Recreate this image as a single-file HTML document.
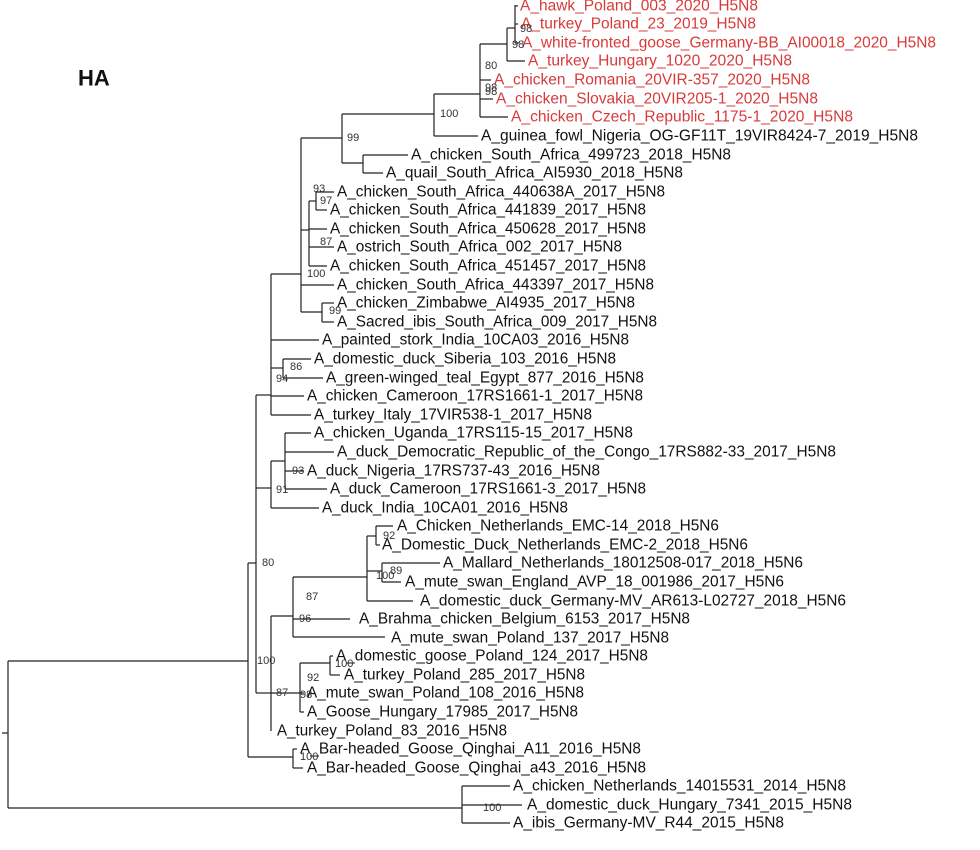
<!DOCTYPE html>
<html><head><meta charset="utf-8"><style>
html,body{margin:0;padding:0;background:#fff;}
svg{display:block;}
.t{font-family:"Liberation Sans",Arial,sans-serif;font-size:15.5px;fill:#111;dominant-baseline:central;}
.r{fill:#d83a3a;}
.b{font-family:"Liberation Sans",Arial,sans-serif;font-size:11px;fill:#333;dominant-baseline:central;}
line{stroke:#222;stroke-width:1.2;}
</style></head><body>
<svg width="980" height="850" viewBox="0 0 980 850" xmlns="http://www.w3.org/2000/svg">
<text x="78" y="78" font-family="Liberation Sans,Arial,sans-serif" font-size="22" font-weight="bold" fill="#111" dominant-baseline="central">HA</text>
<g>
<line x1="2" y1="733" x2="8" y2="733"/>
<line x1="8" y1="661" x2="8" y2="808"/>
<line x1="8" y1="661" x2="248" y2="661"/>
<line x1="8" y1="808" x2="462" y2="808"/>
<line x1="462" y1="786" x2="462" y2="823"/>
<line x1="462" y1="786" x2="510" y2="786"/>
<line x1="462" y1="805" x2="522" y2="805"/>
<line x1="462" y1="823" x2="510" y2="823"/>
<line x1="248" y1="563" x2="248" y2="757"/>
<line x1="248" y1="563" x2="256" y2="563"/>
<line x1="248" y1="757" x2="293" y2="757"/>
<line x1="293" y1="749" x2="293" y2="768"/>
<line x1="293" y1="749" x2="297" y2="749"/>
<line x1="293" y1="768" x2="303" y2="768"/>
<line x1="256" y1="395" x2="256" y2="693"/>
<line x1="256" y1="395" x2="271" y2="395"/>
<line x1="256" y1="488" x2="271" y2="488"/>
<line x1="256" y1="693" x2="271" y2="693"/>
<line x1="271" y1="616" x2="271" y2="731"/>
<line x1="271" y1="616" x2="293" y2="616"/>
<line x1="271" y1="693" x2="300" y2="693"/>
<line x1="293" y1="577" x2="293" y2="637"/>
<line x1="293" y1="577" x2="367" y2="577"/>
<line x1="293" y1="619" x2="350" y2="619"/>
<line x1="293" y1="637" x2="385" y2="637"/>
<line x1="367" y1="536" x2="367" y2="601"/>
<line x1="367" y1="536" x2="376" y2="536"/>
<line x1="367" y1="571" x2="382" y2="571"/>
<line x1="367" y1="601" x2="413" y2="601"/>
<line x1="376" y1="526" x2="376" y2="545"/>
<line x1="376" y1="526" x2="393" y2="526"/>
<line x1="376" y1="545" x2="380" y2="545"/>
<line x1="382" y1="563" x2="382" y2="582"/>
<line x1="382" y1="563" x2="440" y2="563"/>
<line x1="382" y1="582" x2="401" y2="582"/>
<line x1="300" y1="663" x2="300" y2="712"/>
<line x1="300" y1="663" x2="330" y2="663"/>
<line x1="330" y1="656" x2="330" y2="675"/>
<line x1="330" y1="656" x2="333" y2="656"/>
<line x1="330" y1="675" x2="340" y2="675"/>
<line x1="300" y1="693" x2="304" y2="693"/>
<line x1="300" y1="712" x2="304" y2="712"/>
<line x1="271" y1="274" x2="271" y2="415"/>
<line x1="271" y1="274" x2="301" y2="274"/>
<line x1="271" y1="340" x2="319" y2="340"/>
<line x1="271" y1="368" x2="283" y2="368"/>
<line x1="283" y1="359" x2="283" y2="378"/>
<line x1="283" y1="359" x2="311" y2="359"/>
<line x1="283" y1="378" x2="323" y2="378"/>
<line x1="271" y1="396" x2="304" y2="396"/>
<line x1="271" y1="415" x2="311" y2="415"/>
<line x1="271" y1="461" x2="271" y2="508"/>
<line x1="271" y1="461" x2="285" y2="461"/>
<line x1="271" y1="508" x2="319" y2="508"/>
<line x1="285" y1="433" x2="285" y2="489"/>
<line x1="285" y1="433" x2="311" y2="433"/>
<line x1="285" y1="452" x2="334" y2="452"/>
<line x1="285" y1="471" x2="304" y2="471"/>
<line x1="285" y1="489" x2="327" y2="489"/>
<line x1="301" y1="138" x2="301" y2="312"/>
<line x1="301" y1="138" x2="342" y2="138"/>
<line x1="301" y1="230" x2="309" y2="230"/>
<line x1="301" y1="285" x2="334" y2="285"/>
<line x1="301" y1="312" x2="322" y2="312"/>
<line x1="322" y1="303" x2="322" y2="322"/>
<line x1="322" y1="303" x2="334" y2="303"/>
<line x1="322" y1="322" x2="334" y2="322"/>
<line x1="309" y1="201" x2="309" y2="266"/>
<line x1="309" y1="201" x2="316" y2="201"/>
<line x1="316" y1="192" x2="316" y2="210"/>
<line x1="316" y1="192" x2="334" y2="192"/>
<line x1="316" y1="210" x2="327" y2="210"/>
<line x1="309" y1="229" x2="327" y2="229"/>
<line x1="309" y1="247" x2="334" y2="247"/>
<line x1="309" y1="266" x2="327" y2="266"/>
<line x1="342" y1="114" x2="342" y2="163"/>
<line x1="342" y1="114" x2="434" y2="114"/>
<line x1="342" y1="163" x2="363" y2="163"/>
<line x1="363" y1="155" x2="363" y2="173"/>
<line x1="363" y1="155" x2="408" y2="155"/>
<line x1="363" y1="173" x2="383" y2="173"/>
<line x1="434" y1="94" x2="434" y2="136"/>
<line x1="434" y1="94" x2="480" y2="94"/>
<line x1="434" y1="136" x2="478" y2="136"/>
<line x1="480" y1="44" x2="480" y2="117"/>
<line x1="480" y1="44" x2="507" y2="44"/>
<line x1="480" y1="80" x2="491" y2="80"/>
<line x1="480" y1="99" x2="493" y2="99"/>
<line x1="480" y1="117" x2="508" y2="117"/>
<line x1="507" y1="28" x2="507" y2="61"/>
<line x1="507" y1="28" x2="515" y2="28"/>
<line x1="507" y1="61" x2="525" y2="61"/>
<line x1="515" y1="5" x2="515" y2="43"/>
<line x1="515" y1="6" x2="518" y2="6"/>
<line x1="515" y1="24" x2="518" y2="24"/>
<line x1="515" y1="43" x2="519" y2="43"/>
</g>
<g lengthAdjust="spacingAndGlyphs">
<text class="t r" x="520" y="6" textLength="238" lengthAdjust="spacingAndGlyphs">A_hawk_Poland_003_2020_H5N8</text>
<text class="t r" x="521" y="24" textLength="235" lengthAdjust="spacingAndGlyphs">A_turkey_Poland_23_2019_H5N8</text>
<text class="t r" x="522" y="43" textLength="414" lengthAdjust="spacingAndGlyphs">A_white-fronted_goose_Germany-BB_AI00018_2020_H5N8</text>
<text class="t r" x="528" y="61" textLength="264" lengthAdjust="spacingAndGlyphs">A_turkey_Hungary_1020_2020_H5N8</text>
<text class="t r" x="494" y="80" textLength="316" lengthAdjust="spacingAndGlyphs">A_chicken_Romania_20VIR-357_2020_H5N8</text>
<text class="t r" x="496" y="99" textLength="322" lengthAdjust="spacingAndGlyphs">A_chicken_Slovakia_20VIR205-1_2020_H5N8</text>
<text class="t r" x="511" y="117" textLength="342" lengthAdjust="spacingAndGlyphs">A_chicken_Czech_Republic_1175-1_2020_H5N8</text>
<text class="t" x="481" y="136" textLength="437" lengthAdjust="spacingAndGlyphs">A_guinea_fowl_Nigeria_OG-GF11T_19VIR8424-7_2019_H5N8</text>
<text class="t" x="411" y="155" textLength="320" lengthAdjust="spacingAndGlyphs">A_chicken_South_Africa_499723_2018_H5N8</text>
<text class="t" x="386" y="173" textLength="297" lengthAdjust="spacingAndGlyphs">A_quail_South_Africa_AI5930_2018_H5N8</text>
<text class="t" x="337" y="192" textLength="328" lengthAdjust="spacingAndGlyphs">A_chicken_South_Africa_440638A_2017_H5N8</text>
<text class="t" x="330" y="210" textLength="316" lengthAdjust="spacingAndGlyphs">A_chicken_South_Africa_441839_2017_H5N8</text>
<text class="t" x="330" y="229" textLength="316" lengthAdjust="spacingAndGlyphs">A_chicken_South_Africa_450628_2017_H5N8</text>
<text class="t" x="337" y="247" textLength="285" lengthAdjust="spacingAndGlyphs">A_ostrich_South_Africa_002_2017_H5N8</text>
<text class="t" x="330" y="266" textLength="316" lengthAdjust="spacingAndGlyphs">A_chicken_South_Africa_451457_2017_H5N8</text>
<text class="t" x="337" y="285" textLength="317" lengthAdjust="spacingAndGlyphs">A_chicken_South_Africa_443397_2017_H5N8</text>
<text class="t" x="337" y="303" textLength="298" lengthAdjust="spacingAndGlyphs">A_chicken_Zimbabwe_AI4935_2017_H5N8</text>
<text class="t" x="337" y="322" textLength="320" lengthAdjust="spacingAndGlyphs">A_Sacred_ibis_South_Africa_009_2017_H5N8</text>
<text class="t" x="322" y="340" textLength="307" lengthAdjust="spacingAndGlyphs">A_painted_stork_India_10CA03_2016_H5N8</text>
<text class="t" x="314" y="359" textLength="302" lengthAdjust="spacingAndGlyphs">A_domestic_duck_Siberia_103_2016_H5N8</text>
<text class="t" x="326" y="378" textLength="318" lengthAdjust="spacingAndGlyphs">A_green-winged_teal_Egypt_877_2016_H5N8</text>
<text class="t" x="307" y="396" textLength="336" lengthAdjust="spacingAndGlyphs">A_chicken_Cameroon_17RS1661-1_2017_H5N8</text>
<text class="t" x="314" y="415" textLength="278" lengthAdjust="spacingAndGlyphs">A_turkey_Italy_17VIR538-1_2017_H5N8</text>
<text class="t" x="314" y="433" textLength="319" lengthAdjust="spacingAndGlyphs">A_chicken_Uganda_17RS115-15_2017_H5N8</text>
<text class="t" x="337" y="452" textLength="499" lengthAdjust="spacingAndGlyphs">A_duck_Democratic_Republic_of_the_Congo_17RS882-33_2017_H5N8</text>
<text class="t" x="307" y="471" textLength="293" lengthAdjust="spacingAndGlyphs">A_duck_Nigeria_17RS737-43_2016_H5N8</text>
<text class="t" x="330" y="489" textLength="316" lengthAdjust="spacingAndGlyphs">A_duck_Cameroon_17RS1661-3_2017_H5N8</text>
<text class="t" x="322" y="508" textLength="246" lengthAdjust="spacingAndGlyphs">A_duck_India_10CA01_2016_H5N8</text>
<text class="t" x="397" y="526" textLength="322" lengthAdjust="spacingAndGlyphs">A_Chicken_Netherlands_EMC-14_2018_H5N6</text>
<text class="t" x="382" y="545" textLength="366" lengthAdjust="spacingAndGlyphs">A_Domestic_Duck_Netherlands_EMC-2_2018_H5N6</text>
<text class="t" x="443" y="563" textLength="360" lengthAdjust="spacingAndGlyphs">A_Mallard_Netherlands_18012508-017_2018_H5N6</text>
<text class="t" x="405" y="582" textLength="379" lengthAdjust="spacingAndGlyphs">A_mute_swan_England_AVP_18_001986_2017_H5N6</text>
<text class="t" x="420" y="601" textLength="426" lengthAdjust="spacingAndGlyphs">A_domestic_duck_Germany-MV_AR613-L02727_2018_H5N6</text>
<text class="t" x="359" y="619" textLength="331" lengthAdjust="spacingAndGlyphs">A_Brahma_chicken_Belgium_6153_2017_H5N8</text>
<text class="t" x="391" y="638" textLength="278" lengthAdjust="spacingAndGlyphs">A_mute_swan_Poland_137_2017_H5N8</text>
<text class="t" x="336" y="656" textLength="312" lengthAdjust="spacingAndGlyphs">A_domestic_goose_Poland_124_2017_H5N8</text>
<text class="t" x="344" y="675" textLength="241" lengthAdjust="spacingAndGlyphs">A_turkey_Poland_285_2017_H5N8</text>
<text class="t" x="307" y="693" textLength="277" lengthAdjust="spacingAndGlyphs">A_mute_swan_Poland_108_2016_H5N8</text>
<text class="t" x="307" y="712" textLength="271" lengthAdjust="spacingAndGlyphs">A_Goose_Hungary_17985_2017_H5N8</text>
<text class="t" x="277" y="731" textLength="230" lengthAdjust="spacingAndGlyphs">A_turkey_Poland_83_2016_H5N8</text>
<text class="t" x="300" y="749" textLength="341" lengthAdjust="spacingAndGlyphs">A_Bar-headed_Goose_Qinghai_A11_2016_H5N8</text>
<text class="t" x="307" y="768" textLength="339" lengthAdjust="spacingAndGlyphs">A_Bar-headed_Goose_Qinghai_a43_2016_H5N8</text>
<text class="t" x="513" y="786" textLength="333" lengthAdjust="spacingAndGlyphs">A_chicken_Netherlands_14015531_2014_H5N8</text>
<text class="t" x="527" y="805" textLength="325" lengthAdjust="spacingAndGlyphs">A_domestic_duck_Hungary_7341_2015_H5N8</text>
<text class="t" x="513" y="823" textLength="271" lengthAdjust="spacingAndGlyphs">A_ibis_Germany-MV_R44_2015_H5N8</text>
</g>
<g>
<text class="b" x="520" y="29">98</text>
<text class="b" x="512" y="45">98</text>
<text class="b" x="485" y="66">80</text>
<text class="b" x="485" y="88">98</text>
<text class="b" x="485" y="92">98</text>
<text class="b" x="440" y="114">100</text>
<text class="b" x="347" y="138">99</text>
<text class="b" x="313" y="189">93</text>
<text class="b" x="320" y="201">97</text>
<text class="b" x="320" y="242">87</text>
<text class="b" x="307" y="274">100</text>
<text class="b" x="329" y="311">99</text>
<text class="b" x="290" y="367">86</text>
<text class="b" x="276" y="379">94</text>
<text class="b" x="292" y="471">93</text>
<text class="b" x="276" y="490">91</text>
<text class="b" x="383" y="536">92</text>
<text class="b" x="390" y="571">89</text>
<text class="b" x="376" y="576">100</text>
<text class="b" x="262" y="563">80</text>
<text class="b" x="306" y="597">87</text>
<text class="b" x="299" y="619">96</text>
<text class="b" x="257" y="661">100</text>
<text class="b" x="335" y="664">100</text>
<text class="b" x="307" y="678">92</text>
<text class="b" x="276" y="693">87</text>
<text class="b" x="300" y="695">98</text>
<text class="b" x="300" y="757">100</text>
<text class="b" x="483" y="808">100</text>
</g>
</svg>
</body></html>
